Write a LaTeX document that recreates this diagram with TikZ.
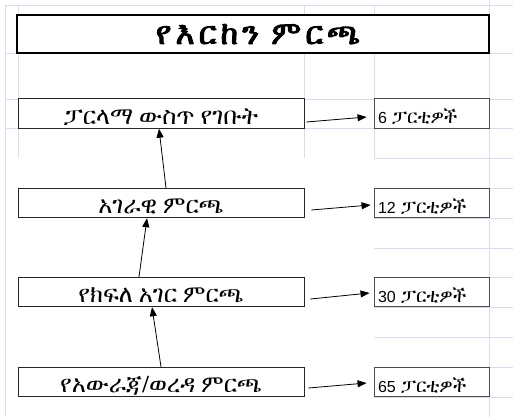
\documentclass[tikz,border=0pt]{standalone}
\usepackage{fontspec}
\usetikzlibrary{arrows.meta}
\newfontfamily\ethfont{FreeSerif}
\newfontfamily\ethbold[FakeBold=3,LetterSpace=13]{FreeSerif}
\setsansfont{Liberation Sans}
\definecolor{gridc}{HTML}{D6DDEB}
\tikzset{
  gridline/.style={draw=gridc, line width=0.8pt},
  titlebox/.style={draw=black, line width=2pt, fill=white, minimum width=472pt, minimum height=38pt, inner sep=0pt, text height=20pt, text depth=0pt, font=\ethbold\fontsize{32}{32}\selectfont},
  levelbox/.style={draw=black!85, line width=0.9pt, fill=white, minimum width=286pt, minimum height=29.5pt, inner sep=0pt, text height=21pt, text depth=0pt, font=\ethfont\fontsize{24}{24}\selectfont},
  countbox/.style={draw=black!70, line width=0.9pt, fill=white, minimum width=115pt, minimum height=29.5pt, inner xsep=4pt, inner ysep=0pt, text width=107pt, align=left, text height=20pt, text depth=0pt, font=\sffamily\fontsize{16}{16}\selectfont},
  arr/.style={draw=black, line width=0.8pt, -{Triangle[length=9pt,width=7pt]}},
}
\newcommand\ethsmall[1]{{\ethfont\fontsize{19}{19}\selectfont #1}}
\begin{document}
\begin{tikzpicture}[x=1pt,y=-1pt]
\useasboundingbox (0,0) rectangle (513,417);
\fill[white] (0,0) rectangle (513,417);
% grid
\draw[gridline] (5,5) -- (5,417);
\draw[gridline] (489,0) -- (489,417);
\foreach \x in {18,304,374} \draw[gridline] (\x,5) -- (\x,158);
\foreach \y in {5,53,99,128} \draw[gridline] (5,\y) -- (513,\y);
\draw[gridline] (374,158) -- (513,158);
\foreach \y in {188,218,248,277,307,337,367,397} \draw[gridline] (374,\y) -- (513,\y);
% nodes
\node[titlebox] (title) at (253,34) {\hspace*{10pt}የእርከን ምርጫ};
\node[levelbox] (b1) at (161,113.5) {ፓርላማ ውስጥ የገቡት};
\node[levelbox] (b2) at (161,203) {አገራዊ ምርጫ};
\node[levelbox] (b3) at (161,292) {የክፍለ አገር ምርጫ};
\node[levelbox] (b4) at (161,382) {የአውራጃ/ወረዳ ምርጫ};
\node[countbox] (c1) at (431.5,113.5) {6 \ethsmall{ፓርቲዎች}};
\node[countbox] (c2) at (431.5,203) {12 \ethsmall{ፓርቲዎች}};
\node[countbox] (c3) at (431.5,292) {30 \ethsmall{ፓርቲዎች}};
\node[countbox] (c4) at (431.5,382) {65 \ethsmall{ፓርቲዎች}};
% arrows
\draw[arr] ([shift={(2,8.5)}]b1.east) -- ([shift={(-7,3.5)}]c1.west);
\draw[arr] ([shift={(7,7)}]b2.east) -- ([shift={(-3,2)}]c2.west);
\draw[arr] ([shift={(6,7)}]b3.east) -- ([shift={(-4,1)}]c3.west);
\draw[arr] ([shift={(4,6)}]b4.east) -- ([shift={(-7,1)}]c4.west);
\draw[arr] ([xshift=5pt]b2.north) -- ([xshift=-2pt]b1.south);
\draw[arr] ([xshift=-22pt]b3.north) -- ([xshift=-14pt]b2.south);
\draw[arr] ([xshift=0pt]b4.north) -- ([xshift=-9pt]b3.south);
\end{tikzpicture}
\end{document}
